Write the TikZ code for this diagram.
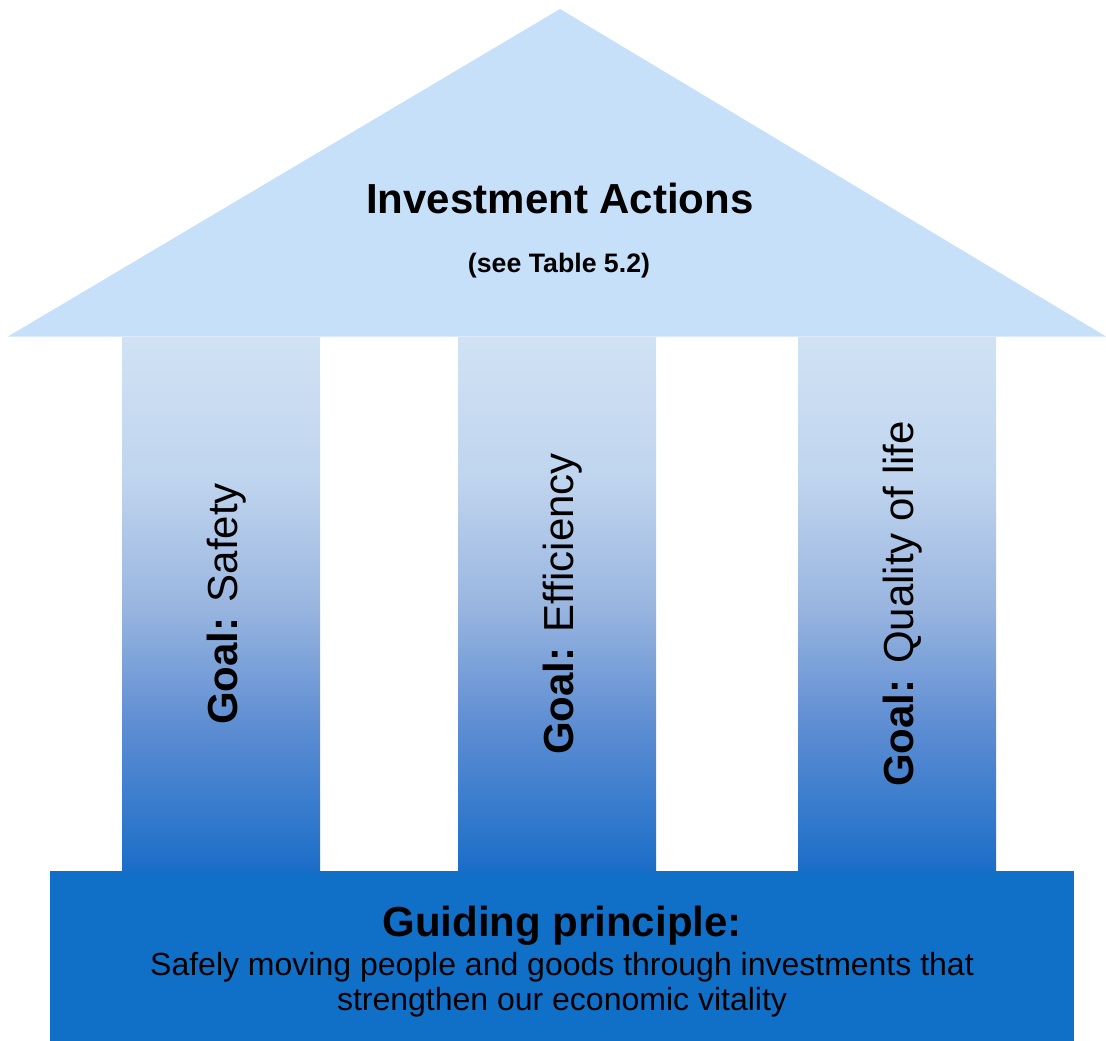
\documentclass[tikz,border=0pt]{standalone}
\usepackage{fontspec}
\setmainfont{Liberation Sans}
\definecolor{roofc}{HTML}{C7E0F9}
\definecolor{basec}{HTML}{1070C8}
\definecolor{g0}{HTML}{1A6DC8}
\definecolor{g1}{HTML}{5F8ED3}
\definecolor{g2}{HTML}{9AB6E0}
\definecolor{g3}{HTML}{BFD4EE}
\definecolor{g4}{HTML}{D0E2F4}
\pgfdeclareverticalshading{colgrad}{100bp}{color(0bp)=(g0); color(25bp)=(g0); color(39bp)=(g1); color(50bp)=(g2); color(61.6bp)=(g3); color(75bp)=(g4); color(100bp)=(g4)}
\tikzset{
  roofshape/.style={fill=roofc, draw=none},
  colshape/.style={shading=colgrad, draw=none},
  baseshape/.style={fill=basec, draw=none},
  goaltxt/.style={rotate=90, anchor=base, font=\fontsize{42}{48}\selectfont, inner sep=0pt},
}
\begin{document}
\begin{tikzpicture}[x=1pt,y=-1pt]
\useasboundingbox (0,0) rectangle (1106,1041);
% roof
\path[roofshape] (8,336.5) -- (560,9) -- (1106,336.5) -- cycle;
% columns
\path[colshape] (122,337) rectangle (320,872);
\path[colshape] (458,337) rectangle (656,872);
\path[colshape] (798,337) rectangle (996,872);
% base
\path[baseshape] (50,871) rectangle (1074,1041);
% texts
\node[anchor=base, inner sep=0pt, font=\fontsize{42}{48}\selectfont\bfseries] (title) at (560,213) {Investment Actions};
\node[anchor=base, inner sep=0pt, font=\fontsize{26.7}{32}\selectfont\bfseries] (sub) at (559,272) {(see Table 5.2)};
\node[goaltxt] (g1) at (237,604) {\textbf{Goal:} Safety};
\node[goaltxt] (g2) at (573,604) {\textbf{Goal:} Efficiency};
\node[goaltxt] (g3) at (913,604) {\textbf{Goal:} Quality of life};
\node[anchor=base, inner sep=0pt, font=\fontsize{42}{48}\selectfont\bfseries] (gp) at (562,936) {Guiding principle:};
\node[anchor=base, inner sep=0pt, font=\fontsize{32}{35}\selectfont] (l1) at (562,975) {Safely moving people and goods through investments that};
\node[anchor=base, inner sep=0pt, font=\fontsize{32}{35}\selectfont] (l2) at (562,1010) {strengthen our economic vitality};
\end{tikzpicture}
\end{document}
